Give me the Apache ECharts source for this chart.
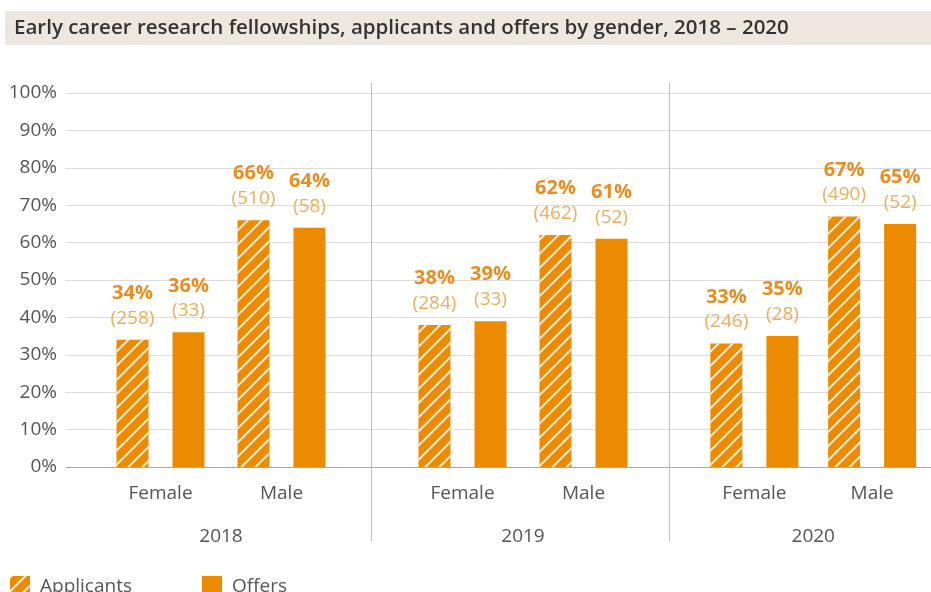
<!DOCTYPE html>
<html>
<head>
<meta charset="utf-8">
<script src="https://cdn.jsdelivr.net/npm/echarts@6/dist/echarts.min.js"></script>
<style>html,body{margin:0;padding:0;background:#fff;}#c{width:931px;height:592px;}</style>
</head>
<body>
<div id="c"></div>
<script>
const years = ['2018', '2019', '2020'];
const genders = ['Female', 'Male'];
const applicantsPct = [[34, 66], [38, 62], [33, 67]];
const offersPct = [[36, 64], [39, 61], [35, 65]];
const applicantsN = [[258, 510], [284, 462], [246, 490]];
const offersN = [[33, 58], [33, 52], [28, 52]];
const yTicks = [0, 10, 20, 30, 40, 50, 60, 70, 80, 90, 100];

const ORANGE = '#EC8B00';
const FONT = '"Open Sans"';
const yearLefts = [100, 402, 695.5];
const yearWidth = 242;
const TOP = 93, BOTTOM = 125;

const chart = echarts.init(document.getElementById('c'), null, {renderer: 'canvas'});

const grids = [{left: 66, right: 0, top: TOP, bottom: BOTTOM}];
const xAxes = [{
  type: 'category', gridIndex: 0, data: [''],
  axisLine: {show: true, lineStyle: {color: '#a8a8a8', width: 1}},
  axisTick: {show: false}, axisLabel: {show: false}
}];
const yAxes = [{
  type: 'value', gridIndex: 0, min: yTicks[0], max: yTicks[yTicks.length - 1], interval: yTicks[1] - yTicks[0],
  axisLine: {show: false}, axisTick: {show: false},
  axisLabel: {formatter: '{value}%', fontFamily: FONT, fontSize: 19, color: '#555', margin: 9},
  splitLine: {lineStyle: {color: '#dcdcdc', width: 1}}
}];
const series = [];

function lbl(nArr, yi) {
  return {
    show: true, position: 'top', distance: 9,
    formatter: p => '{p|' + p.value + '%}\n{n|(' + nArr[yi][p.dataIndex] + ')}',
    rich: {
      p: {fontFamily: FONT, fontSize: 20, fontWeight: 'bold', color: '#EC8C1C', lineHeight: 25, align: 'center'},
      n: {fontFamily: FONT, fontSize: 19, color: '#F2AC58', lineHeight: 25, align: 'center'}
    }
  };
}

years.forEach((yr, i) => {
  const gi = i + 1;
  grids.push({left: yearLefts[i], width: yearWidth, top: TOP, bottom: BOTTOM});
  xAxes.push({
    type: 'category', gridIndex: gi, data: genders,
    axisLine: {show: false}, axisTick: {show: false},
    axisLabel: {fontFamily: FONT, fontSize: 19, color: '#555', margin: 17}
  });
  xAxes.push({
    type: 'category', gridIndex: gi, data: [yr], position: 'bottom', offset: 43,
    axisLine: {show: false}, axisTick: {show: false},
    axisLabel: {fontFamily: FONT, fontSize: 19, color: '#555', margin: 17}
  });
  yAxes.push({type: 'value', gridIndex: gi, min: 0, max: 100, show: false, splitLine: {show: false}});
  series.push({
    name: 'Applicants', type: 'bar', xAxisIndex: 1 + i * 2, yAxisIndex: gi,
    data: applicantsPct[i], barWidth: 32, barGap: '75%',
    itemStyle: {color: ORANGE, decal: {symbol: 'rect', symbolSize: 1, dashArrayX: [1, 0], dashArrayY: [2, 8], rotation: -Math.PI / 4, color: 'rgba(255,255,255,0.85)'}},
    label: lbl(applicantsN, i)
  });
  series.push({
    name: 'Offers', type: 'bar', xAxisIndex: 1 + i * 2, yAxisIndex: gi,
    data: offersPct[i], barWidth: 32, barGap: '75%',
    itemStyle: {color: ORANGE},
    label: lbl(offersN, i)
  });
});

const option = {
  animation: false,
  backgroundColor: '#fff',
  title: {
    text: 'Early career research fellowships, applicants and offers by gender, 2018 – 2020',
    left: 14, top: 18, padding: 0,
    textStyle: {fontFamily: FONT, fontSize: 20.5, fontWeight: 600, color: '#333'}
  },
  legend: {
    data: ['Applicants', 'Offers'], left: 5, top: 571, itemWidth: 20, itemHeight: 22, itemGap: 70,
    icon: 'rect',
    textStyle: {fontFamily: FONT, fontSize: 19, color: '#555', padding: [0, 0, 0, 5]}
  },
  graphic: [
    {type: 'rect', shape: {x: 5, y: 11, width: 926, height: 34}, style: {fill: '#EDE7DF'}, z: -10, silent: true},
    {type: 'line', shape: {x1: 371.5, y1: 83, x2: 371.5, y2: 541}, style: {stroke: '#bdbdbd', lineWidth: 1}, z: 10, silent: true},
    {type: 'line', shape: {x1: 669.5, y1: 83, x2: 669.5, y2: 541}, style: {stroke: '#bdbdbd', lineWidth: 1}, z: 10, silent: true}
  ],
  grid: grids, xAxis: xAxes, yAxis: yAxes, series: series
};
chart.setOption(option);
</script>
</body>
</html>
